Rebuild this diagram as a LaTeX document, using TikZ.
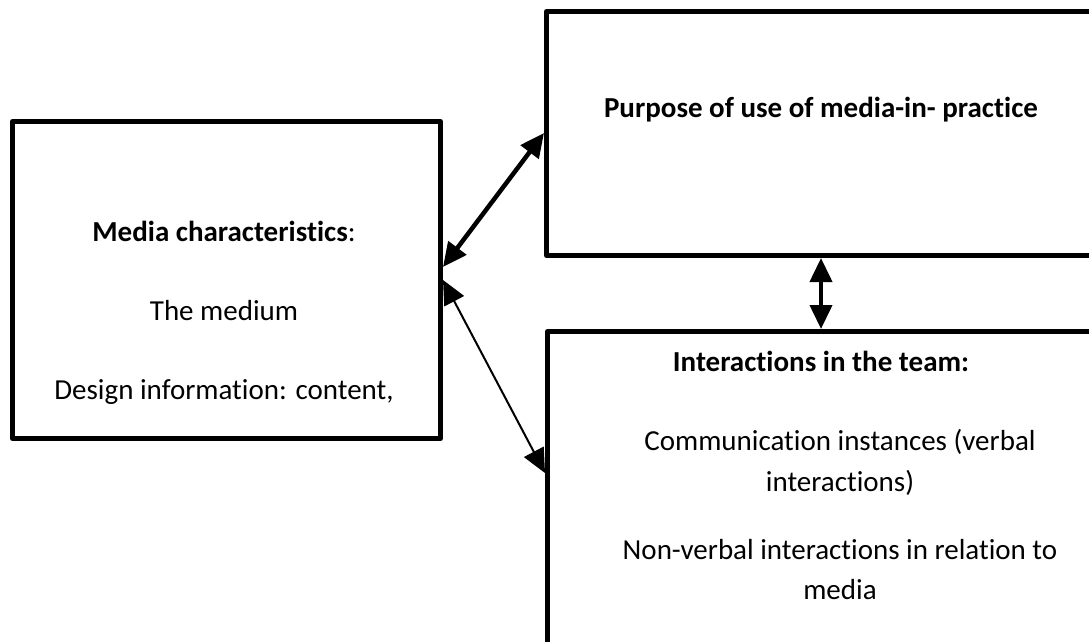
\documentclass[tikz,border=0pt]{standalone}
\usepackage{fontspec}
\setmainfont{Carlito}[Ligatures=NoCommon]
\usetikzlibrary{arrows.meta,calc}
\begin{document}
\begin{tikzpicture}[x=1pt,y=-1pt,
  box/.style={draw,line width=5pt,line join=round,rectangle,inner sep=0pt,anchor=north west},
  txt/.style={font=\fontsize{29}{35}\selectfont,anchor=base,inner sep=0pt},
  head/.style={font=\fontsize{29}{35}\selectfont\bfseries,anchor=base,inner sep=0pt},
  tip/.tip={Triangle[length=24pt,width=22pt]},
  boldlink/.style={tip-tip,line width=4.5pt},
  thinlink/.style={tip-tip,line width=2pt},
  vlink/.style={tip-tip,line width=4pt},
]
\path[use as bounding box] (0,0) rectangle (1089,642);
\clip (0,0) rectangle (1089,642);

% the three boxes
\node[box,minimum width=428pt,minimum height=317pt] (media) at (10,119) {};
\node[box,minimum width=600pt,minimum height=244pt] (purpose) at (544,9) {};
\node[box,minimum width=600pt,minimum height=315pt] (team) at (545,329) {};

% box texts
\node[head] (mchead) at (224,241) {Media characteristics\textmd{:}};
\node[txt] (medium) at (224,320) {The medium};
\node[txt] (design) at (224,399) {Design information: content,};

\node[head] (purp) at (821,117) {Purpose of use of media-in- practice};

\node[head] (ith) at (821,371) {Interactions in the team:};
\node[txt] (c1) at (840,450) {Communication instances (verbal};
\node[txt] (c2) at (840,491) {interactions)};
\node[txt] (n1) at (840,559) {Non-verbal interactions in relation to};
\node[txt] (n2) at (840,599) {media};

% connectors
\draw[boldlink] ($(media.north east)+(0,148)$) -- ($(purpose.north west)+(0,124)$);
\draw[thinlink] ($(media.north east)+(0,161)$) -- ($(team.north west)+(0,144)$);
\draw[vlink] ($(purpose.south west)+(277,0)$) -- ($(team.north west)+(276,0)$);
\end{tikzpicture}
\end{document}
